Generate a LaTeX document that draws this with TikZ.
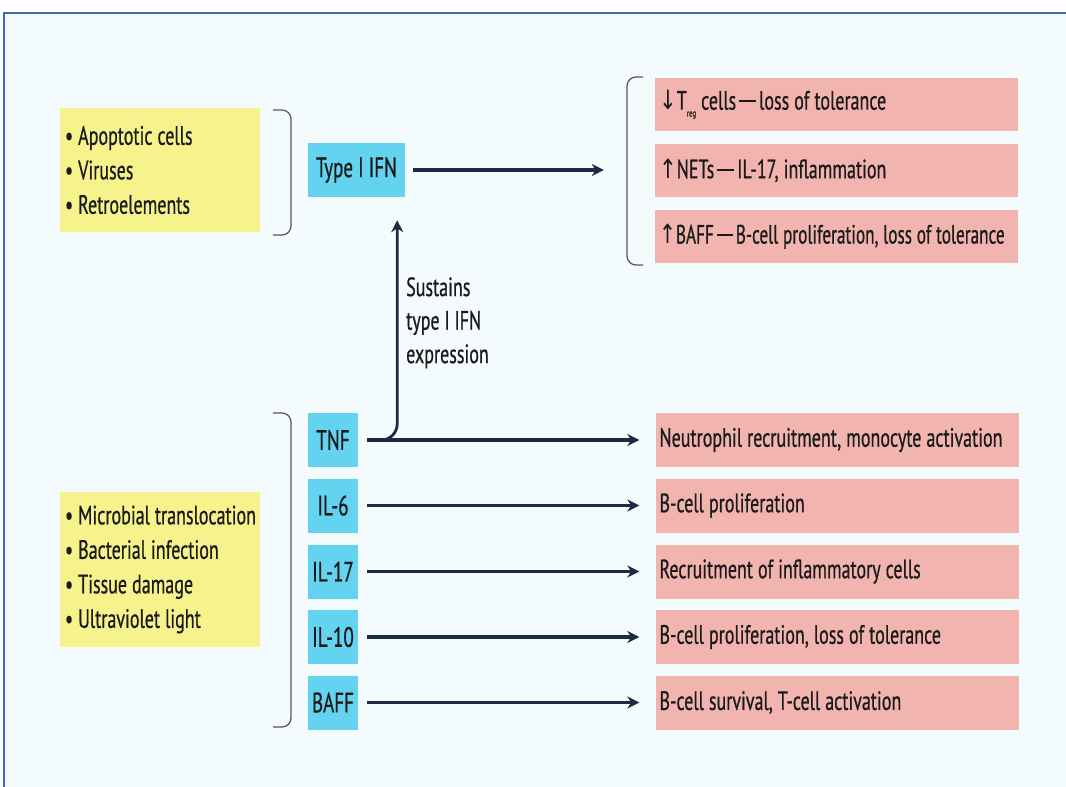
\documentclass[tikz,border=0pt]{standalone}
\usepackage{graphicx}
\usepackage{fontspec}
\setmainfont[FakeStretch=0.68, FakeBold=0.6]{PT Sans}
\newfontfamily\arrfont[FakeStretch=0.8]{DejaVu Sans}
\usetikzlibrary{arrows.meta}
\definecolor{bgc}{HTML}{F4FBFD}
\definecolor{framec}{HTML}{3F68B0}
\definecolor{yel}{HTML}{F7F38C}
\definecolor{cyanb}{HTML}{64D3F0}
\definecolor{pinkb}{HTML}{F2B4AF}
\definecolor{navy}{HTML}{1C2A45}
\definecolor{brk}{HTML}{5A5A5A}
\definecolor{txt}{HTML}{1A1A1A}
\newcommand\ns{\spaceskip=0.19em\relax\xspaceskip=0.19em\relax}
\newcommand\mdsh{\hspace{3pt}\rule[7.5pt]{17pt}{1.9pt}\hspace{3pt}}
\begin{document}
\begin{tikzpicture}[x=1pt,y=-1pt,
  font=\fontsize{26.5}{34.5}\selectfont, text=txt,
  ybox/.style={fill=yel, minimum width=200pt, text width=194pt, align=left, inner xsep=3pt, inner ysep=0pt},
  bbox/.style={fill=cyanb, minimum height=54pt, inner sep=0pt, font=\fontsize{28}{34}\selectfont},
  pbox/.style={fill=pinkb, minimum width=363pt, minimum height=53pt, text width=355pt, align=left, inner xsep=4pt, inner ysep=0pt},
  arr/.style={draw=navy, line width=3.2pt, -{Stealth[length=12pt,width=12pt]}},
  bracket/.style={draw=brk, line width=1.3pt, rounded corners=9pt}
]
\useasboundingbox (0,0) rectangle (1066,787);
\fill[white] (0,0) rectangle (1066,787);
\filldraw[fill=bgc, draw=framec, line width=1.5pt] (4,13) rectangle (1080,800);

% left input boxes
\node[ybox, minimum height=124pt] (y1) at (160,170) {\ns\hspace*{2pt}• Apoptotic cells\\\hspace*{2pt}• Viruses\\\hspace*{2pt}• Retroelements};
\node[ybox, minimum height=155pt] (y2) at (160,569.5) {\ns\hspace*{2pt}• Microbial translocation\\\hspace*{2pt}• Bacterial infection\\\hspace*{2pt}• Tissue damage\\\hspace*{2pt}• Ultraviolet light};

% brackets
\draw[bracket] (273,110) -- (291,110) -- (291,235) -- (273,235);
\draw[bracket] (273,413) -- (291,413) -- (291,727) -- (273,727);
\draw[bracket] (643,77) -- (627,77) -- (627,265) -- (643,265);

% cytokines
\node[bbox, minimum width=97pt] (ifn) at (356.5,170) {Type I IFN};
\node[bbox, minimum width=50pt] (tnf) at (333,440) {TNF};
\node[bbox, minimum width=50pt] (il6) at (333,505.5) {IL-6};
\node[bbox, minimum width=50pt] (il17) at (333,571.5) {IL-17};
\node[bbox, minimum width=50pt] (il10) at (333,637) {IL-10};
\node[bbox, minimum width=50pt] (baff) at (333,702.5) {BAFF};

% outcomes (type I IFN)
\node[pbox] (p1) at (836.5,104.5) {\ns{\arrfont ↓}T\raisebox{-7pt}{\fontsize{10}{10}\selectfont reg} cells\mdsh loss of tolerance};
\node[pbox] (p2) at (836.5,170.5) {\ns{\arrfont ↑}NETs\mdsh IL-17, inflammation};
\node[pbox] (p3) at (836.5,236.5) {\ns\scalebox{0.955}[1]{{\arrfont ↑}BAFF\mdsh B-cell proliferation, loss of tolerance}};

% outcomes (other cytokines)
\node[pbox, minimum height=54pt] (r1) at (837,440) {\ns Neutrophil recruitment, monocyte activation};
\node[pbox, minimum height=54pt] (r2) at (837,505.5) {\ns B-cell proliferation};
\node[pbox, minimum height=54pt] (r3) at (837,571.5) {\ns Recruitment of inflammatory cells};
\node[pbox, minimum height=54pt] (r4) at (837,637) {\ns B-cell proliferation, loss of tolerance};
\node[pbox, minimum height=54pt] (r5) at (837,702.5) {\ns B-cell survival, T-cell activation};

% arrows
\draw[arr, shorten <=8pt, shorten >=51pt] (ifn.east) -- (p2.west |- ifn.east);
\draw[arr, shorten <=9pt, shorten >=16pt] (tnf.east) -- (r1.west);
\draw[arr, shorten <=9pt, shorten >=16pt] (il6.east) -- (r2.west);
\draw[arr, shorten <=9pt, shorten >=16pt] (il17.east) -- (r3.west);
\draw[arr, shorten <=9pt, shorten >=16pt] (il10.east) -- (r4.west);
\draw[arr, shorten <=9pt, shorten >=16pt] (baff.east) -- (r5.west);
\coordinate (bend) at ([xshift=39pt]tnf.east);
\draw[arr, line width=2.8pt, rounded corners=16pt, shorten >=23pt] ([xshift=9pt]tnf.east) -- (bend) -- (bend |- ifn.south);

\node[anchor=north west, align=left, inner sep=0pt, font=\fontsize{26.5}{33.5}\selectfont] (lab) at (406,277) {\ns Sustains\\type I IFN\\expression};
\end{tikzpicture}
\end{document}
